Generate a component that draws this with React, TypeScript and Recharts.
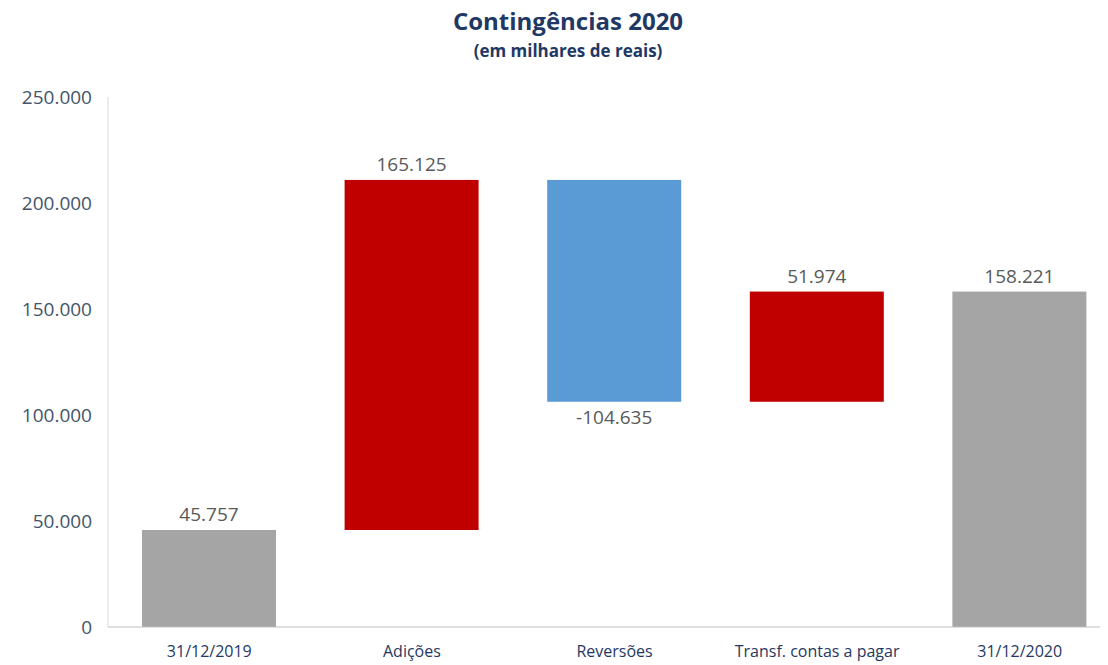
import { Bar, ComposedChart, LabelList, XAxis, YAxis } from 'recharts'

// Waterfall pieces.
const categories = ['31/12/2019', 'Adições', 'Reversões', 'Transf. contas a pagar', '31/12/2020']
const changes = [45757, 165125, -104635, 51974, 158221]
const kinds = ['total', 'up', 'down', 'up', 'total']
const yTicks = [0, 50000, 100000, 150000, 200000, 250000]

const COLOR: Record<string, string> = {
  total: '#A5A5A5',
  up: '#C00000',
  down: '#5B9BD5',
}

const FONT = '"Open Sans", sans-serif'

// Build base + visible segment per step so the stacked bars float.
let running = 0
const data = categories.map((name, i) => {
  const v = changes[i]
  const kind = kinds[i]
  let base = 0
  let size = v
  if (kind === 'total') {
    running = v
  } else if (v >= 0) {
    base = running
    running += v
  } else {
    running += v
    base = running
    size = -v
  }
  return { name, base, size, kind, change: v }
})

const fmt = (n: number) => n.toLocaleString('pt-BR')

function ValueLabel(props: any) {
  const { x, y, width, height, index } = props
  const d = data[index]
  const below = d.change < 0
  return (
    <text
      x={x + width / 2}
      y={below ? y + height + 22 : y - 9}
      textAnchor="middle"
      fontFamily={FONT}
      fontSize={19}
      fill="#595959"
    >
      {fmt(d.change)}
    </text>
  )
}

export default function App() {
  return (
    <div
      style={{
        position: 'absolute',
        left: 0,
        top: 0,
        width: 1108,
        height: 665,
        background: '#fff',
      }}
    >
      <div
        style={{
          position: 'absolute',
          left: 0,
          width: 1136,
          top: 4,
          textAlign: 'center',
          fontFamily: FONT,
          color: '#1F3864',
          fontWeight: 700,
        }}
      >
        <div style={{ fontSize: 24, lineHeight: '34px' }}>Contingências 2020</div>
        <div style={{ fontSize: 17, lineHeight: '26px' }}>(em milhares de reais)</div>
      </div>
      <ComposedChart
        width={1100}
        height={665}
        data={data}
        margin={{ top: 97, right: -21, bottom: 0, left: 0 }}
        barSize={134}
        accessibilityLayer={false}
        style={{ overflow: 'hidden' }}
      >
        <XAxis
          dataKey="name"
          height={38}
          axisLine={{ stroke: '#BFBFBF' }}
          tickLine={false}
          tickSize={0}
          tickMargin={19}
          interval={0}
          tick={{ fontFamily: FONT, fontSize: 16, fill: '#1F3864' }}
        />
        <YAxis
          width={108}
          domain={[0, 250000]}
          ticks={yTicks}
          interval={0}
          axisLine={{ stroke: '#D9D9D9' }}
          tickLine={false}
          tickSize={0}
          tickMargin={16}
          tickFormatter={fmt}
          tick={{ fontFamily: FONT, fontSize: 19, fill: '#44546A' }}
        />
        <Bar dataKey="base" stackId="w" fill="transparent" isAnimationActive={false} />
        <Bar
          dataKey="size"
          stackId="w"
          isAnimationActive={false}
          shape={(p: any) => (
            <rect x={p.x} y={p.y} width={p.width} height={p.height} fill={COLOR[data[p.index].kind]} />
          )}
        >
          <LabelList dataKey="size" content={ValueLabel} />
        </Bar>
      </ComposedChart>
    </div>
  )
}
